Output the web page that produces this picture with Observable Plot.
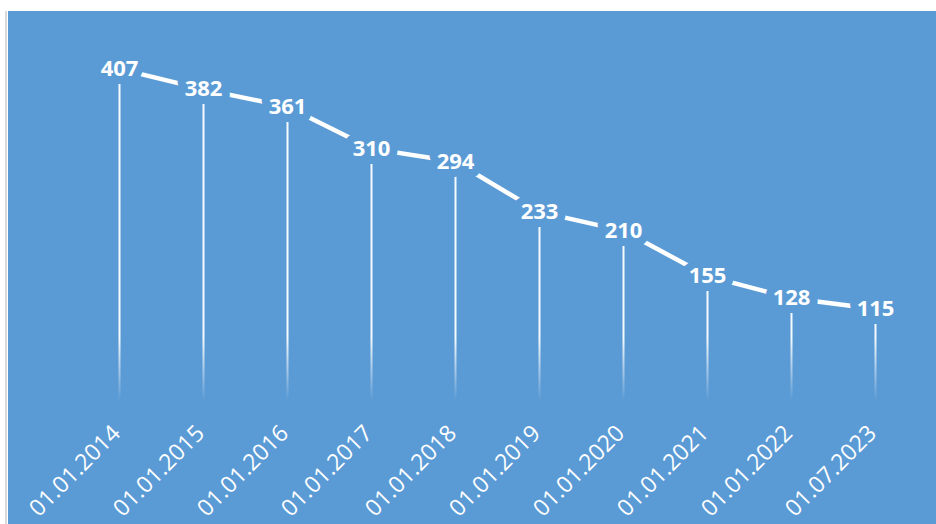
<!DOCTYPE html>
<html>
<head>
<meta charset="utf-8">
<script src="https://cdn.jsdelivr.net/npm/d3@7"></script>
<script src="https://cdn.jsdelivr.net/npm/@observablehq/plot@0.6"></script>
<style>
  html, body { margin: 0; padding: 0; background: #ffffff; width: 936px; height: 524px; overflow: hidden; }
  #edge { position: absolute; left: 5px; top: 11px; width: 2px; height: 513px; background: #d9d9d9; }
  #chart { position: absolute; left: 8px; top: 11px; }
  #chart svg { display: block; }
</style>
</head>
<body>
<div id="edge"></div>
<div id="chart"></div>
<script>
const dates = ["01.01.2014", "01.01.2015", "01.01.2016", "01.01.2017", "01.01.2018",
               "01.01.2019", "01.01.2020", "01.01.2021", "01.01.2022", "01.07.2023"];
const values = [407, 382, 361, 310, 294, 233, 210, 155, 128, 115];

const rows = dates.map((d, i) => ({date: d, value: values[i]}));
const bg = "#5b9bd5";

const chart = Plot.plot({
  width: 928,
  height: 513,
  marginLeft: 108,
  marginRight: 59,
  marginTop: 22,
  marginBottom: 121,
  style: {background: bg, color: "white", fontFamily: "'Open Sans', sans-serif", overflow: "visible"},
  x: {type: "point", domain: dates, padding: 0, axis: null, label: null},
  y: {domain: [0, 450], axis: null},
  marks: [
    Plot.ruleX(rows, {x: "date", y1: 0, y2: "value", stroke: "url(#fade)", strokeWidth: 2}),
    Plot.line(rows, {x: "date", y: "value", stroke: "white", strokeWidth: 4.5, strokeLinecap: "butt"}),
    Plot.text(rows, {x: "date", y: "value", text: d => String(d.value), fill: "white",
      fontSize: 22, fontWeight: "bold", stroke: bg, strokeWidth: 16, strokeLinejoin: "round",
      lineAnchor: "middle", textAnchor: "middle"}),
    Plot.axisX({tickRotate: -45, tickSize: 0, tickPadding: 0, textAnchor: "end", lineAnchor: "middle",
      dx: -3, dy: 26, fontSize: 23, fill: "white", stroke: null, label: null})
  ]
});

const yScale = chart.scale("y");
const defs = d3.create("svg:defs");
const grad = defs.append("linearGradient")
  .attr("id", "fade")
  .attr("gradientUnits", "userSpaceOnUse")
  .attr("x1", 0).attr("x2", 0)
  .attr("y1", yScale.apply(80)).attr("y2", yScale.apply(3));
grad.append("stop").attr("offset", 0).attr("stop-color", "white").attr("stop-opacity", 0.95);
grad.append("stop").attr("offset", 1).attr("stop-color", "white").attr("stop-opacity", 0);
chart.insertBefore(defs.node(), chart.firstChild);

document.getElementById("chart").appendChild(chart);
</script>
</body>
</html>
